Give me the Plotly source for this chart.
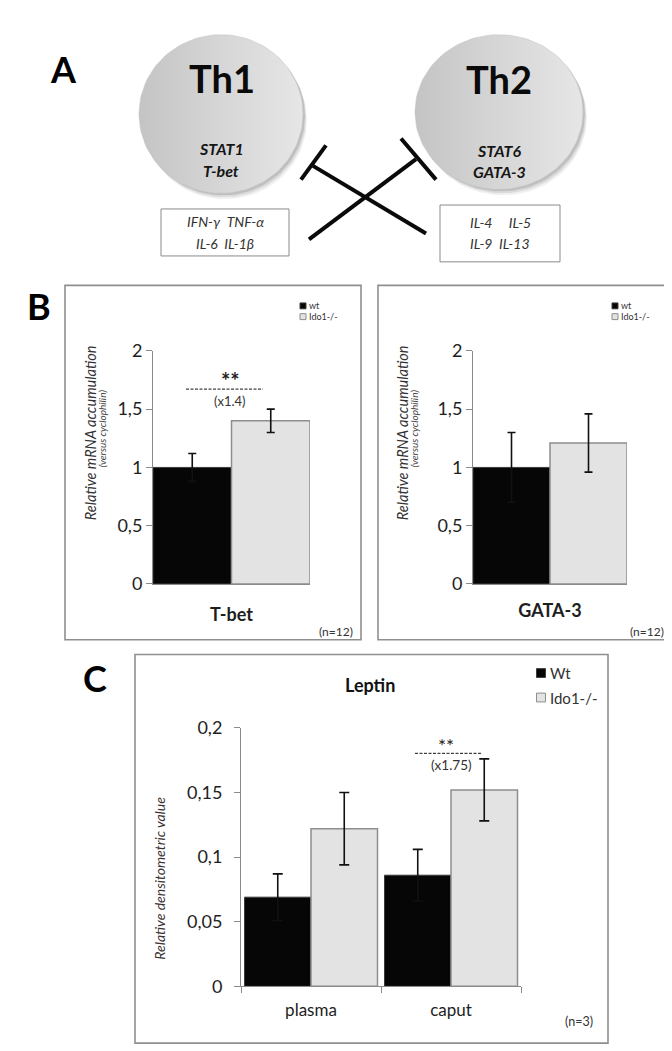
import numpy as np
import plotly.graph_objects as go

W, H = 672, 1051
FONT = "Lato"

# ---------------- data ----------------
groups = ["wt", "Ido1-/-"]
groups_c = ["Wt", "Ido1-/-"]

tbet_cat = ["T-bet"]
tbet_wt, tbet_wt_err = [1.00], [0.12]
tbet_ko, tbet_ko_err = [1.40], [0.10]

gata_cat = ["GATA-3"]
gata_wt, gata_wt_err = [1.00], [0.30]
gata_ko, gata_ko_err = [1.21], [0.25]

leptin_cat = ["plasma", "caput"]
leptin_wt, leptin_wt_err = [0.069, 0.086], [0.018, 0.020]
leptin_ko, leptin_ko_err = [0.122, 0.152], [0.028, 0.024]

b_ticks = [0, 0.5, 1, 1.5, 2]
c_ticks = [0, 0.05, 0.1, 0.15, 0.2]

th1_markers = ["STAT1", "T-bet"]
th2_markers = ["STAT6", "GATA-3"]
th1_cytokines = ["IFN-γ  TNF-α", "IL-6  IL-1β"]
th2_cytokines = ["IL-4     IL-5", "IL-9  IL-13"]

# ---------------- helpers ----------------
def px(x):
    return x / W

def py(y):
    return 1 - y / H

WT_COL = "#060606"
WT_LINE = "#3c3c3c"
KO_COL = "#e3e3e3"
KO_LINE = "#8e8e8e"
AX_COL = "#8a8a8a"
TXT = "#1e1e1e"

fig = go.Figure()

# ---------------- panel A (diagram, pixel axes x4/y4) ----------------
def ellipse(cx, cy, rx, ry, n=120):
    t = np.linspace(0, 2 * np.pi, n)
    return cx + rx * np.cos(t), cy + ry * np.sin(t)

for (cx, cy, rx, ry) in [(213, 96, 82, 81), (491, 94, 84, 79)]:
    for k, (dx, dy, a) in enumerate([(4, 6, 0.06), (3, 4, 0.09), (2, 2, 0.12)]):
        ex, ey = ellipse(cx + dx, cy + dy, rx, ry)
        fig.add_trace(go.Scatter(x=ex, y=ey, xaxis="x4", yaxis="y4", mode="lines",
                                 fill="toself", fillcolor=f"rgba(0,0,0,{a})",
                                 line=dict(width=0), hoverinfo="skip", showlegend=False))
    ex, ey = ellipse(cx, cy, rx, ry)
    fig.add_trace(go.Scatter(x=ex, y=ey, xaxis="x4", yaxis="y4", mode="lines",
                             fill="toself",
                             fillgradient=dict(type="horizontal",
                                               colorscale=[[0, "#c4c4c4"], [0.5, "#d6d6d6"], [1, "#e6e6e6"]]),
                             line=dict(width=0.6, color="#c8c8c8"),
                             hoverinfo="skip", showlegend=False))

shapes = []
annotations = []

def ann(x, y, text, size, color=TXT, bold=False, italic=False, xanchor="center",
        angle=0, ref="paper"):
    t = text
    if bold:
        t = f"<b>{t}</b>"
    if italic:
        t = f"<i>{t}</i>"
    xr, yr = ("paper", "paper") if ref == "paper" else ("x4", "y4")
    xx, yy = (px(x), py(y)) if ref == "paper" else (x, y)
    annotations.append(dict(x=xx, y=yy, xref=xr, yref=yr, text=t,
                            showarrow=False, xanchor=xanchor, yanchor="middle",
                            textangle=angle, font=dict(family=FONT, size=size, color=color)))

# inhibition lines
for (x0, y0, x1, y1) in [(305, 149, 418, 218), (293, 163, 318, 128),
                         (301, 224, 408, 142), (393, 121, 428, 163)]:
    shapes.append(dict(type="line", xref="x4", yref="y4", x0=x0, y0=y0, x1=x1, y1=y1,
                       line=dict(color="#0a0a0a", width=4)))

# cytokine boxes
for (x0, y0, x1, y1) in [(153, 193, 281, 241), (432, 189, 552, 247)]:
    shapes.append(dict(type="rect", xref="x4", yref="y4", x0=x0, y0=y0, x1=x1, y1=y1,
                       line=dict(color="#8a8a8a", width=1), fillcolor="white"))

ann(214, 59, "Th1", 38, color="#0a0a0a", bold=True, ref="x4")
ann(491, 60, "Th2", 38, color="#0a0a0a", bold=True, ref="x4")
for i, m in enumerate(th1_markers):
    ann(213, 131 + 23 * i, m, 16, color="#151515", bold=True, italic=True, ref="x4")
for i, m in enumerate(th2_markers):
    ann(491, 133 + 22 * i, m, 16, color="#151515", bold=True, italic=True, ref="x4")
for i, c in enumerate(th1_cytokines):
    ann(217, 206 + 22 * i, c, 14, color="#333333", italic=True, ref="x4")
for i, c in enumerate(th2_cytokines):
    ann(492, 207 + 21 * i, c, 14, color="#333333", italic=True, ref="x4")

# panel letters
ann(55, 50, "A", 36, color="#000", bold=True)
ann(31, 292, "B", 36, color="#000", bold=True)
ann(87, 672, "C", 36, color="#000", bold=True)

# ---------------- bar charts ----------------
def add_bars(xa, ya, cats, wt, wterr, ko, koerr, cap):
    fig.add_trace(go.Bar(x=cats, y=wt, name="wt", xaxis=xa, yaxis=ya,
                         marker=dict(color=WT_COL, line=dict(color=WT_LINE, width=1)),
                         error_y=dict(type="data", array=wterr, color="#111", thickness=1.6, width=cap),
                         showlegend=False, hoverinfo="skip"))
    fig.add_trace(go.Bar(x=cats, y=ko, name="Ido1-/-", xaxis=xa, yaxis=ya,
                         marker=dict(color=KO_COL, line=dict(color=KO_LINE, width=1.5)),
                         error_y=dict(type="data", array=koerr, color="#111", thickness=1.6, width=cap),
                         showlegend=False, hoverinfo="skip"))

add_bars("x", "y", tbet_cat, tbet_wt, tbet_wt_err, tbet_ko, tbet_ko_err, 4)
add_bars("x2", "y2", gata_cat, gata_wt, gata_wt_err, gata_ko, gata_ko_err, 4)
add_bars("x3", "y3", leptin_cat, leptin_wt, leptin_wt_err, leptin_ko, leptin_ko_err, 5)

# panel frames
for (x0, y0, x1, y1) in [(57, 271, 353, 633), (370, 271, 664, 633), (127, 648, 600, 1045)]:
    shapes.append(dict(type="rect", xref="paper", yref="paper",
                       x0=px(x0), y0=py(y0), x1=px(x1), y1=py(y1),
                       line=dict(color="#8f8f8f", width=1.6), layer="below"))

# manual legends
def legend(xsq, ys, size, labels, fsize, gap):
    cols = [(WT_COL, WT_LINE), (KO_COL, KO_LINE)]
    for i, lab in enumerate(labels):
        yc = ys[i]
        shapes.append(dict(type="rect", xref="paper", yref="paper",
                           x0=px(xsq - size / 2), x1=px(xsq + size / 2),
                           y0=py(yc + size / 2), y1=py(yc - size / 2),
                           fillcolor=cols[i][0], line=dict(color=cols[i][1], width=1)))
        ann(xsq + size / 2 + gap, yc, lab, fsize, color="#333", xanchor="left")

legend(295, [292, 303], 6, groups, 9, 1)
legend(607, [292, 303], 6, groups, 9, 1)
legend(533, [667, 692], 9, groups_c, 15, 2)

# B annotations
ann(222, 368, "<b>**</b>", 22, color="#222")
shapes.append(dict(type="line", xref="paper", yref="paper", x0=px(178), x1=px(255),
                   y0=py(377), y1=py(377), line=dict(color="#111", width=1, dash="3px,1.5px")))
ann(222, 389, "(x1.4)", 13, color="#333")
ann(347, 625, "(n=12)", 12, color="#333", xanchor="right")
ann(658, 625, "(n=12)", 12, color="#333", xanchor="right")

ytitle_b = "<i>Relative mRNA accumulation</i>"
ysub_b = "<i>(versus cyclophilin)</i>"
for (xt, xs) in [(82, 94), (394, 406)]:
    ann(xt, 422, ytitle_b, 14.5, color="#333", angle=-90)
    ann(xs, 417, ysub_b, 10, color="#444", angle=-90)

# C annotations
ann(362, 679, "Leptin", 18, color="#111", bold=True)
ann(438, 741, "**", 19, color="#222")
shapes.append(dict(type="line", xref="paper", yref="paper", x0=px(407), x1=px(473),
                   y0=py(749), y1=py(749), line=dict(color="#111", width=1, dash="3px,1.5px")))
ann(443, 761, "(x1.75)", 13.5, color="#333")
ann(587, 1023, "(n=3)", 12.5, color="#333", xanchor="right")
ann(152, 877, "<i>Relative densitometric value</i>", 14, color="#3a3232", angle=-90)

# ---------------- axes ----------------
yax_common = dict(showline=True, linecolor=AX_COL, linewidth=1, ticks="outside", ticklen=6,
                  tickcolor=AX_COL, showgrid=False, zeroline=False,
                  tickfont=dict(family=FONT, size=18, color=TXT))

fig.update_layout(
    width=W, height=H, autosize=False,
    margin=dict(l=0, r=0, t=0, b=0),
    paper_bgcolor="white", plot_bgcolor="rgba(0,0,0,0)",
    separators=",.",
    barmode="group", bargap=0.05, bargroupgap=0,
    showlegend=False,
    font=dict(family=FONT),
    xaxis=dict(domain=[px(145), px(302)], anchor="y", range=[-0.475, 0.475], showline=True,
               linecolor=AX_COL, ticks="", showgrid=False, ticklabelstandoff=14,
               tickfont=dict(family=FONT, size=18, color=TXT, weight="bold")),
    yaxis=dict(domain=[py(576), py(338)], anchor="x", range=[0, 2], tickvals=b_ticks, **yax_common),
    xaxis2=dict(domain=[px(465), px(619)], anchor="y2", range=[-0.475, 0.475], showline=True,
                linecolor=AX_COL, ticks="", showgrid=False, ticklabelstandoff=10,
                tickfont=dict(family=FONT, size=18, color=TXT, weight="bold")),
    yaxis2=dict(domain=[py(576), py(338)], anchor="x2", range=[0, 2], tickvals=b_ticks, **yax_common),
    xaxis3=dict(domain=[px(233), px(513)], anchor="y3", range=[-0.5, 1.5], showline=True,
                linecolor=AX_COL, ticks="outside", ticklen=6, tickcolor=AX_COL,
                tickson="boundaries", showgrid=False, ticklabelstandoff=8,
                tickfont=dict(family=FONT, size=17, color=TXT)),
    yaxis3=dict(domain=[py(987), py(723)], anchor="x3", range=[0, 0.2], tickvals=c_ticks,
                ticklabelstandoff=8, **yax_common),
    xaxis4=dict(domain=[0, 1], anchor="y4", range=[0, W], visible=False),
    yaxis4=dict(domain=[py(260), 1], anchor="x4", range=[260, 0], visible=False),
    shapes=shapes,
    annotations=annotations,
)

fig.write_html("out.html")
